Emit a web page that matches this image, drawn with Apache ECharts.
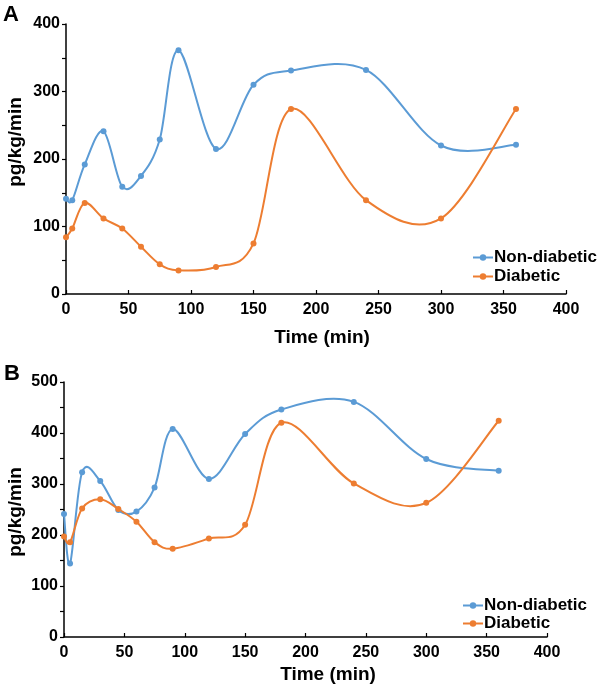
<!DOCTYPE html>
<html><head><meta charset="utf-8">
<script src="https://cdn.jsdelivr.net/npm/echarts@6/dist/echarts.min.js"></script>
<style>html,body{margin:0;padding:0;background:#fff}#c{width:598px;height:687px}</style>
</head><body><div id="c"></div>
<script>
const timeMin = [0, 5, 15, 30, 45, 60, 75, 90, 120, 150, 180, 240, 300, 360];
const nonDiabeticA = [141, 139, 192, 241, 159, 175, 229, 361, 215, 310, 331, 332, 220, 221];
const diabeticA = [84, 97, 135, 112, 97, 70, 44, 35, 40, 75, 274, 139, 112, 274];
const nonDiabeticB = [241, 144, 323, 306, 249, 246, 293, 408, 310, 398, 446, 461, 349, 326];
const diabeticB = [197, 186, 252, 270, 251, 226, 186, 173, 193, 220, 420, 301, 263, 424];
const seriesNames = ['Non-diabetic', 'Diabetic'];
const colors = ['#5B9BD5', '#ED7D31'];

const FONT = '"Liberation Sans", Arial, sans-serif';
const pair = (xs, ys) => xs.map((x, i) => [x, ys[i]]);

function xAxis(idx) {
  return {
    type: 'value', gridIndex: idx, min: 0, max: 400, interval: 50,
    axisLine: { show: true, lineStyle: { color: '#000', width: 1.5 } },
    axisTick: { show: true, inside: true, length: 4, lineStyle: { color: '#000', width: 1.2 } },
    axisLabel: { color: '#000', fontFamily: FONT, fontWeight: 'bold', fontSize: 16, margin: 8 },
    splitLine: { show: false }
  };
}
function yAxis(idx, max) {
  return {
    type: 'value', gridIndex: idx, min: 0, max: max, interval: 100,
    axisLine: { show: true, lineStyle: { color: '#000', width: 1.5 } },
    axisTick: { show: true, inside: false, length: 4, lineStyle: { color: '#000', width: 1.2 } },
    minorTick: { show: true, splitNumber: 2, length: 4, lineStyle: { color: '#000', width: 1.2 } },
    axisLabel: { color: '#000', fontFamily: FONT, fontWeight: 'bold', fontSize: 16, margin: 6 },
    splitLine: { show: false }
  };
}
// markers (and legend source)
function markers(name, ys, ci, idx) {
  return {
    type: 'line', name: name, xAxisIndex: idx, yAxisIndex: idx, z: 3,
    data: pair(timeMin, ys), symbol: 'circle', symbolSize: 6,
    itemStyle: { color: colors[ci] },
    lineStyle: { color: colors[ci], width: 0, opacity: 0 },
    emphasis: { disabled: true }
  };
}
// smooth curve (Catmull-Rom style bezier through the points, in pixel space)
function curve(ys, ci, idx) {
  const n = timeMin.length;
  return {
    type: 'custom', xAxisIndex: idx, yAxisIndex: idx, z: 2, silent: true,
    data: pair(timeMin, ys), encode: { x: 0, y: 1 },
    renderItem: function (params, api) {
      const i = params.dataIndex;
      if (i >= n - 1) return null;
      const P = j => api.coord([timeMin[Math.max(0, Math.min(n - 1, j))], ys[Math.max(0, Math.min(n - 1, j))]]);
      const p0 = P(i - 1), p1 = P(i), p2 = P(i + 1), p3 = P(i + 2);
      const k = 1 / 6;
      return {
        type: 'bezierCurve',
        shape: {
          x1: p1[0], y1: p1[1], x2: p2[0], y2: p2[1],
          cpx1: p1[0] + (p2[0] - p0[0]) * k, cpy1: p1[1] + (p2[1] - p0[1]) * k,
          cpx2: p2[0] - (p3[0] - p1[0]) * k, cpy2: p2[1] - (p3[1] - p1[1]) * k
        },
        style: { stroke: colors[ci], lineWidth: 2, fill: null }
      };
    }
  };
}
function legend(left, top, gap) {
  return {
    data: seriesNames.map((n, i) => ({ name: n, lineStyle: { color: colors[i], width: 2, opacity: 1 } })),
    orient: 'vertical', left: left, top: top, itemGap: gap, padding: 0,
    itemWidth: 20, itemHeight: 8,
    textStyle: { color: '#000', fontFamily: FONT, fontWeight: 'bold', fontSize: 17, padding: [0, 0, 0, -4] },
    selectedMode: false
  };
}
const txt = (x, y, text, size, rot) => ({
  type: 'text', x: x, y: y, rotation: rot || 0,
  style: { text: text, fill: '#000', font: 'bold ' + size + 'px ' + FONT, align: 'center', verticalAlign: 'middle' }
});

const chart = echarts.init(document.getElementById('c'), null, { renderer: 'canvas' });
chart.setOption({
  animation: false,
  backgroundColor: '#fff',
  grid: [
    { left: 66, right: 32, top: 24, height: 270 },
    { left: 64, right: 51, top: 382, height: 255 }
  ],
  xAxis: [xAxis(0), xAxis(1)],
  yAxis: [yAxis(0, 400), yAxis(1, 500)],
  legend: [legend(472, 249, 2), legend(462, 597, 1)],
  series: [
    curve(nonDiabeticA, 0, 0),
    curve(diabeticA, 1, 0),
    curve(nonDiabeticB, 0, 1),
    curve(diabeticB, 1, 1),
    markers(seriesNames[0], nonDiabeticA, 0, 0),
    markers(seriesNames[1], diabeticA, 1, 0),
    markers(seriesNames[0], nonDiabeticB, 0, 1),
    markers(seriesNames[1], diabeticB, 1, 1)
  ],
  graphic: [
    txt(11, 15, 'A', 22),
    txt(12, 373.5, 'B', 22),
    txt(322, 338, 'Time (min)', 19),
    txt(328, 675, 'Time (min)', 19),
    txt(16, 142, 'pg/kg/min', 19, Math.PI / 2),
    txt(16, 512, 'pg/kg/min', 19, Math.PI / 2)
  ]
});
</script>
</body></html>
